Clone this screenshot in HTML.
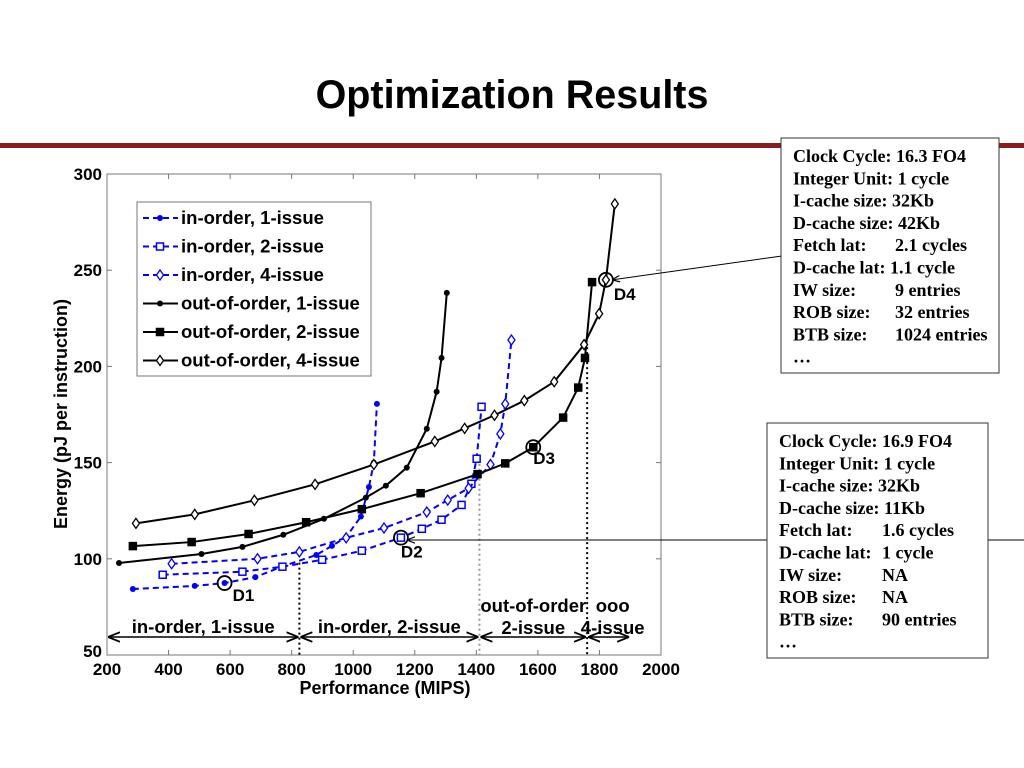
<!DOCTYPE html>
<html><head><meta charset="utf-8"><style>
body{margin:0;background:#fff;}
svg{display:block;}
.tk{font-family:"Liberation Sans",sans-serif;font-weight:bold;font-size:17px;}
.lg{font-family:"Liberation Sans",sans-serif;font-weight:bold;font-size:18.5px;}
.rg{font-family:"Liberation Sans",sans-serif;font-weight:bold;font-size:18.5px;}
.at{font-family:"Liberation Sans",sans-serif;font-weight:bold;font-size:18px;}
.tb{font-family:"Liberation Serif",serif;font-weight:bold;font-size:18px;}
</style></head><body>
<svg width="1024" height="768" viewBox="0 0 1024 768">
<text x="512" y="108" text-anchor="middle" font-family="Liberation Sans" font-weight="bold" font-size="39.5">Optimization Results</text>
<rect x="0" y="143" width="1024" height="5" fill="#8b1a1a"/>
<g id="chart"></g>
</svg>
<script>
const xTicks=[200,400,600,800,1000,1200,1400,1600,1800,2000];
const yTicks=[50,100,150,200,250,300];
const seriesNames=["in-order, 1-issue","in-order, 2-issue","in-order, 4-issue","out-of-order, 1-issue","out-of-order, 2-issue","out-of-order, 4-issue"];
const io1X=[284,485,582,682,773,880,931,977,1025,1051,1067,1077];
const io1Y=[84.3,85.9,87.4,90.5,96.2,102,106.7,111.3,122,137.3,150,180.5];
const io2X=[381,640,770,899,1028,1155,1223,1287,1352,1384,1401,1417];
const io2Y=[91.7,93.3,95.9,99.5,104.2,111,115.6,120.3,128,139,152,179];
const io4X=[410,689,825,977,1100,1239,1307,1375,1446,1478,1494,1514];
const io4Y=[97.4,100,103.6,110.9,116,124.3,130.5,136.7,149,164.9,180.5,213.7];
const oo1X=[239,507,640,773,905,1041,1106,1174,1239,1271,1287,1304];
const oo1Y=[97.8,102.5,106.2,112.5,120.8,131.8,138,147.4,167.6,186.8,204.4,238.2];
const oo2X=[284,475,660,847,1028,1219,1404,1494,1585,1682,1731,1753,1776];
const oo2Y=[106.6,108.7,112.9,119,125.8,134.1,144,149.6,158,173.4,189,204.4,243.8];
const oo4X=[294,485,679,876,1067,1265,1362,1459,1556,1653,1750,1799,1821,1850];
const oo4Y=[118.4,123.1,130.4,138.7,149,161,167.8,174.6,182.2,192,211.3,227.4,245,284.5];
const designLabels=["D1","D2","D3","D4"];
const designX=[582,1155,1585,1821];
const designY=[87.4,111,158,245];
const regionLabels=["in-order, 1-issue","in-order, 2-issue","out-of-order 2-issue","ooo 4-issue"];
const regionBounds=[200,825,1410,1760,1900];

const L=107,R=661,T=174,B=655;
const sx=v=>L+(v-200)/1800*(R-L);
const sy=v=>B-(v-50)/250*(B-T);
const NS="http://www.w3.org/2000/svg";
const g=document.getElementById('chart');
function mk(tag,attrs,parent){const e=document.createElementNS(NS,tag);for(const k in attrs)e.setAttribute(k,attrs[k]);(parent||g).appendChild(e);return e;}
const defs=mk('defs',{});
const mkr=mk('marker',{id:'ar',viewBox:'0 0 10 10',refX:'10',refY:'5',markerWidth:'8',markerHeight:'8',orient:'auto-start-reverse'},defs);
mk('path',{d:'M0,1 L10,5 L0,9',fill:'none',stroke:'#000','stroke-width':'1.5'},mkr);

const ax=mk('rect',{x:L,y:T,width:R-L,height:B-T,fill:'none',stroke:'#777','stroke-width':1});


xTicks.forEach(v=>{
 const x=sx(v);
 mk('line',{x1:x,y1:B,x2:x,y2:B-5,stroke:'#777'});mk('line',{x1:x,y1:T,x2:x,y2:T+5,stroke:'#777'});
 const t=mk('text',{x:x,y:B+20,'text-anchor':'middle',class:'tk'});t.textContent=v;
 
 
});
yTicks.forEach(v=>{
 const y=sy(v);
 mk('line',{x1:L,y1:y,x2:L+5,y2:y,stroke:'#777'});mk('line',{x1:R,y1:y,x2:R-5,y2:y,stroke:'#777'});
 const t=mk('text',{x:L-5,y:y+(v==50?2:6),'text-anchor':'end',class:'tk'});t.textContent=v;
 
 
});
let xt=mk('text',{x:385,y:694,'text-anchor':'middle',class:'at'});xt.textContent='Performance (MIPS)';


let yt=mk('text',{x:0,y:0,'text-anchor':'middle',class:'at',transform:'translate(67,414) rotate(-90)'});yt.textContent='Energy (pJ per instruction)';



mk('line',{x1:sx(825),y1:sy(98),x2:sx(825),y2:B,stroke:'#000','stroke-width':2,'stroke-dasharray':'2,3'});
mk('line',{x1:sx(1410),y1:sy(152),x2:sx(1410),y2:B,stroke:'#999','stroke-width':2,'stroke-dasharray':'2,3'});
mk('line',{x1:sx(1760),y1:sy(210),x2:sx(1760),y2:B,stroke:'#000','stroke-width':2,'stroke-dasharray':'2,3'});

function marker(type,x,y,color,filled){
 if(type==='dot') return mk('circle',{cx:x,cy:y,r:3,fill:color});
 if(type==='sq') return mk('rect',{x:x-3.5,y:y-3.5,width:7,height:7,fill:filled?color:'#fff',stroke:color,'stroke-width':1.5});
 if(type==='dia') return mk('path',{d:`M${x},${y-5} L${x+3.5},${y} L${x},${y+5} L${x-3.5},${y} Z`,fill:'#fff',stroke:color,'stroke-width':1.3});
}
const series=[[io1X,io1Y,'blue','dot',true,true],[io2X,io2Y,'blue','sq',false,true],[io4X,io4Y,'blue','dia',false,true],
[oo1X,oo1Y,'#000','dot',true,false],[oo2X,oo2Y,'#000','sq',true,false],[oo4X,oo4Y,'#000','dia',false,false]];
series.forEach((s,i)=>{
 const [xs,ys,c,m,f,dash]=s;
 const grp=mk('g',{});
 
 
 mk('polyline',{points:xs.map((x,j)=>sx(x)+','+sy(ys[j])).join(' '),fill:'none',stroke:c,'stroke-width':2,'stroke-dasharray':dash?'6,4':'none'},grp);
 xs.forEach((x,j)=>{const e=marker(m,sx(x),sy(ys[j]),c,f);grp.appendChild(e);
  
  });
});
const dOff=[[8,18],[0,20],[0,17],[8,20]];
designLabels.forEach((d,i)=>{
 const x=sx(designX[i]),y=sy(designY[i]);
 const c=mk('circle',{cx:x,cy:y,r:7,fill:'none',stroke:'#000','stroke-width':1.8});
 
 
 const t=mk('text',{x:x+dOff[i][0],y:y+dOff[i][1],class:'tk'});t.textContent=d;
 
 
});
const ay=637;
regionLabels.forEach((r,i)=>{
 const x1=sx(regionBounds[i])+1,x2=sx(regionBounds[i+1])-1;
 mk('line',{x1:x1,y1:ay,x2:x2,y2:ay,stroke:'#000','stroke-width':1.5,'marker-start':'url(#ar)','marker-end':'url(#ar)'});
 const cx=(x1+x2)/2;
 const parts=i===2?['out-of-order','2-issue']:i===3?['ooo','4-issue']:[r];
 parts.forEach((p,k)=>{
  const t=mk('text',{x:cx+(i===3?4:0),y:parts.length>1?(k===0?612:634):633,'text-anchor':'middle',class:'rg'});t.textContent=p;
  
  
 });
});
const lg=mk('g',{});


mk('rect',{x:137,y:202,width:234,height:174,fill:'#fff',stroke:'#777'},lg);
seriesNames.forEach((n,i)=>{
 const y=218+i*28.5,s=series[i];
 mk('line',{x1:143,y1:y,x2:178,y2:y,stroke:s[2],'stroke-width':2,'stroke-dasharray':s[5]?'6,4':'none'},lg);
 lg.appendChild(marker(s[3],160,y,s[2],s[4]));
 const t=mk('text',{x:181,y:y+6,class:'lg'},lg);t.textContent=n;
 
 
});
mk('line',{x1:782,y1:256,x2:sx(1821)+6,y2:sy(245),stroke:'#000','stroke-width':1,'marker-end':'url(#ar)'});
mk('line',{x1:1024,y1:540,x2:sx(1155)+6,y2:540,stroke:'#000','stroke-width':1,'marker-end':'url(#ar)'});
function box(x,y,w,h,lines,name,col){
 const b=mk('g',{});
 
 
 mk('rect',{x:x,y:y,width:w,height:h,fill:'#fff',stroke:'#333'},b);
 lines.forEach((l,i)=>{
  const t=mk('text',{x:x+12,y:y+24+i*22.3,class:'tb'},b);t.textContent=l[0];
  if(l[1]){const t2=mk('text',{x:x+col,y:y+24+i*22.3,class:'tb'},b);t2.textContent=l[1];}
 });
}
box(781,138,218,235,[["Clock Cycle: 16.3 FO4"],["Integer Unit: 1 cycle"],["I-cache size: 32Kb"],["D-cache size: 42Kb"],["Fetch lat:","2.1 cycles"],["D-cache lat: 1.1 cycle"],["IW size:","9 entries"],["ROB size:","32 entries"],["BTB size:","1024 entries"],["…"]],'config-box-d4',114);
box(767,423,221,235,[["Clock Cycle: 16.9 FO4"],["Integer Unit: 1 cycle"],["I-cache size: 32Kb"],["D-cache size: 11Kb"],["Fetch lat:","1.6 cycles"],["D-cache lat:","1 cycle"],["IW size:","NA"],["ROB size:","NA"],["BTB size:","90 entries"],["…"]],'config-box-d2',115);
</script>
</body></html>
